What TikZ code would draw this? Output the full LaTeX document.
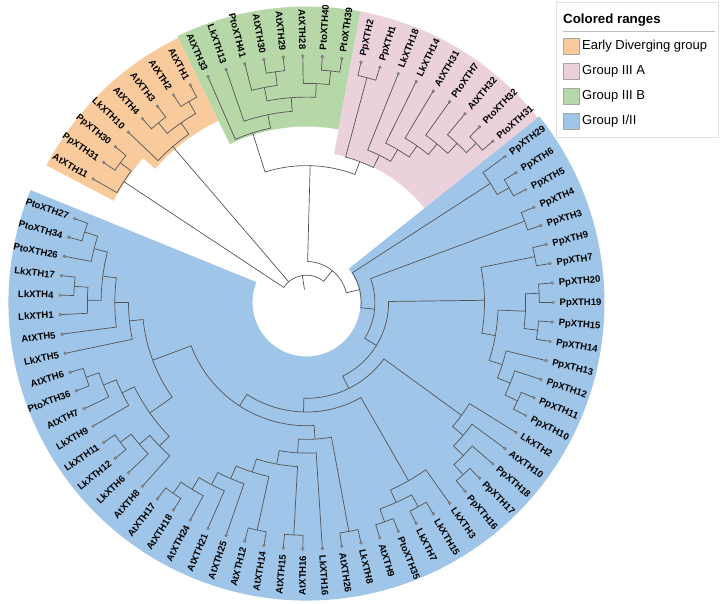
\documentclass[tikz,border=0pt]{standalone}
\usepackage{fontspec}
\setmainfont{Liberation Sans}
\usetikzlibrary{calc}
\definecolor{earlyrange}{RGB}{249,203,156}
\definecolor{threearange}{RGB}{234,209,220}
\definecolor{threebrange}{RGB}{182,215,168}
\definecolor{onetworange}{RGB}{159,197,232}
\definecolor{branchgray}{RGB}{85,85,85}
\definecolor{tipgray}{RGB}{150,150,150}
\tikzset{
  branch/.style={draw=branchgray, line width=0.7pt},
  tipdot/.style={fill=tipgray, draw=tipgray!70!black, line width=0.3pt},
  leaflab/.style={font=\fontsize{9.5}{10}\selectfont\bfseries, inner sep=0pt, text height=6.8pt, text depth=0pt},
  legtext/.style={font=\fontsize{13}{14}\selectfont, anchor=west, inner sep=0pt},
  swatch/.style={draw=black!35, line width=0.4pt, minimum size=16pt, inner sep=0pt}
}
% angular position of every tree node, by name
\newcommand\setpos[2]{\expandafter\xdef\csname tp#1\endcsname{#2}}
\newcommand\getpos[1]{\csname tp#1\endcsname}
% internal node: name, height, first child, second child
\newcommand\clade[4]{%
  \pgfmathsetmacro\pa{\getpos{#3}}\pgfmathsetmacro\pb{\getpos{#4}}%
  \pgfmathsetmacro\pn{(\pa+\pb)/2}\setpos{#1}{\pn}%
  \draw[branch] (#3) -- ({leafang(\pa)}:{rlev(#2)}) arc[start angle={leafang(\pa)}, end angle={leafang(\pb)}, radius={rlev(#2)}] -- (#4);
  \coordinate (#1) at ({leafang(\pn)}:{rlev(#2)});
}
% coloured range: colour, first and last leaf position, inner and outer radius
\newcommand\crange[5]{%
  \fill[#1] ({leafang(#2)}:#4) arc[start angle={leafang(#2)}, end angle={leafang(#3)}, radius=#4]
    -- ({leafang(#3)}:#5) arc[start angle={leafang(#3)}, end angle={leafang(#2)}, radius=#5] -- cycle;
}

\begin{document}
\begin{tikzpicture}[x=1pt, y=1pt,
  declare function={leafang(\p)=(33-\p)*4.543; rlev(\h)=246.5-13.7*\h;}]
\useasboundingbox (-306.5,-300.5) rectangle (415.5,302.5);

% colored ranges
\crange{earlyrange}{-0.5}{2.5}{218}{294}
\crange{earlyrange}{2.5}{7.5}{202}{294}
\crange{threebrange}{7.5}{15.5}{176}{296}
\crange{threearange}{15.5}{24.5}{151}{296}
\crange{onetworange}{24.5}{77.5}{54}{298}

% leaves
\foreach \nm [count=\i from 0] in {AtXTH11, PpXTH31, PpXTH30, LkXTH10, AtXTH4, AtXTH3, AtXTH2, AtXTH1,
    AtXTH33, LkXTH13, PtoXTH41, AtXTH30, AtXTH29, AtXTH28, PtoXTH40, PtoXTH39,
    PpXTH2, PpXTH1, LkXTH18, LkXTH14, AtXTH31, PtoXTH7, AtXTH32, PtoXTH32, PtoXTH31,
    PpXTH29, PpXTH6, PpXTH5, PpXTH4, PpXTH3, PpXTH9, PpXTH7, PpXTH20, PpXTH19, PpXTH15,
    PpXTH14, PpXTH13, PpXTH12, PpXTH11, PpXTH10, LkXTH2, AtXTH10, PpXTH18, PpXTH17, PpXTH16,
    LkXTH3, LkXTH15, LkXTH7, PtoXTH35, AtXTH9, LkXTH8, AtXTH26, LkXTH16, AtXTH16, AtXTH15,
    AtXTH14, AtXTH12, AtXTH25, AtXTH21, AtXTH24, AtXTH18, AtXTH17, AtXTH8, LkXTH6, LkXTH12,
    LkXTH11, LkXTH9, AtXTH7, PtoXTH36, AtXTH6, LkXTH5, AtXTH5, LkXTH1, LkXTH4, LkXTH17,
    PtoXTH26, PtoXTH34, PtoXTH27} {
  \setpos{\nm}{\i}
  \pgfmathsetmacro\a{leafang(\i)}
  \pgfmathtruncatemacro\rside{and(\a>-90,\a<90)}
  \coordinate (\nm) at (\a:246.5);
  \ifnum\rside=1
    \node[leaflab, anchor=west, rotate=\a] (\nm-lab) at (\a:253) {\nm};
  \else
    \node[leaflab, anchor=east, rotate=\a+180] (\nm-lab) at (\a:253) {\nm};
  \fi
}

% early diverging group
\clade{o1a}{1}{PpXTH31}{PpXTH30}
\clade{o1}{2}{AtXTH11}{o1a}
\clade{o2a}{1}{AtXTH4}{AtXTH3}
\clade{o2b}{1}{AtXTH2}{AtXTH1}
\clade{o2c}{2}{o2a}{o2b}
\clade{o2}{3}{LkXTH10}{o2c}
% group III B
\clade{g1}{1}{AtXTH30}{AtXTH29}
\clade{g2}{2}{PtoXTH41}{g1}
\clade{g3}{1}{PtoXTH40}{PtoXTH39}
\clade{g4}{2}{AtXTH28}{g3}
\clade{g5}{3}{g2}{g4}
\clade{g6}{4}{LkXTH13}{g5}
\clade{g7}{5}{AtXTH33}{g6}
% group III A
\clade{k1}{1}{PtoXTH32}{PtoXTH31}
\clade{k2}{2}{AtXTH32}{k1}
\clade{k3}{3}{PtoXTH7}{k2}
\clade{k4}{4}{AtXTH31}{k3}
\clade{k5}{5}{LkXTH14}{k4}
\clade{k6}{6}{LkXTH18}{k5}
\clade{k7}{1}{PpXTH2}{PpXTH1}
\clade{k8}{7}{k7}{k6}
\clade{gp}{8}{g7}{k8}
% group I/II
\clade{c1a}{1}{PpXTH6}{PpXTH5}
\clade{c1}{2}{PpXTH29}{c1a}
\clade{c2}{1}{PpXTH4}{PpXTH3}
\clade{p1}{1}{PpXTH9}{PpXTH7}
\clade{p2}{1}{PpXTH20}{PpXTH19}
\clade{p3}{1}{PpXTH15}{PpXTH14}
\clade{p4}{2}{p2}{p3}
\clade{p5}{1}{PpXTH11}{PpXTH10}
\clade{p6}{2}{PpXTH12}{p5}
\clade{p7}{3}{PpXTH13}{p6}
\clade{p8}{4}{p4}{p7}
\clade{p9}{5}{p1}{p8}
\clade{q1}{1}{PpXTH17}{PpXTH16}
\clade{q2}{2}{PpXTH18}{q1}
\clade{q3}{3}{AtXTH10}{q2}
\clade{q4}{4}{LkXTH2}{q3}
\clade{s1}{1}{PtoXTH35}{AtXTH9}
\clade{s2}{1}{LkXTH15}{LkXTH7}
\clade{s3}{2}{s2}{s1}
\clade{s4}{3}{LkXTH3}{s3}
\clade{a1}{1}{AtXTH18}{AtXTH17}
\clade{a2}{2}{AtXTH24}{a1}
\clade{a3}{3}{AtXTH21}{a2}
\clade{a4}{4}{AtXTH25}{a3}
\clade{a5}{1}{AtXTH14}{AtXTH12}
\clade{a6}{5}{a5}{a4}
\clade{a7}{1}{AtXTH16}{AtXTH15}
\clade{a8}{6}{a7}{a6}
\clade{a9}{7}{LkXTH16}{a8}
\clade{a10}{1}{LkXTH8}{AtXTH26}
\clade{a11}{8}{a10}{a9}
\clade{u1}{1}{LkXTH12}{LkXTH11}
\clade{u2}{2}{LkXTH6}{u1}
\clade{u3}{3}{AtXTH8}{u2}
\clade{u4}{1}{PtoXTH36}{AtXTH6}
\clade{u5}{2}{AtXTH7}{u4}
\clade{u6}{3}{LkXTH9}{u5}
\clade{u7}{4}{u3}{u6}
\clade{v1}{1}{LkXTH4}{LkXTH17}
\clade{v2}{2}{LkXTH1}{v1}
\clade{v3}{1}{PtoXTH34}{PtoXTH27}
\clade{v4}{2}{PtoXTH26}{v3}
\clade{v5}{3}{v2}{v4}
\clade{v6}{4}{AtXTH5}{v5}
\clade{v7}{5}{LkXTH5}{v6}
\clade{w}{6}{u7}{v7}
\clade{b6}{9}{a11}{w}
\clade{b5}{10}{s4}{b6}
\clade{b4}{11}{q4}{b5}
\clade{b3}{12}{p9}{b4}
\clade{b2}{13}{c2}{b3}
\clade{b1}{14}{c1}{b2}
\clade{y}{15}{gp}{b1}

% root with three children
\pgfmathsetmacro\pa{\getpos{o1}}\pgfmathsetmacro\pb{\getpos{y}}\pgfmathsetmacro\pc{\getpos{o2}}
\pgfmathsetmacro\pr{(\pa+\pb)/2}
\draw[branch] (o1) -- ({leafang(\pa)}:{rlev(16)}) arc[start angle={leafang(\pa)}, end angle={leafang(\pb)}, radius={rlev(16)}] -- (y);
\draw[branch] (o2) -- ({leafang(\pc)}:{rlev(16)});
\coordinate (root) at ({leafang(\pr)}:{rlev(16)});
\coordinate (rootbase) at ({leafang(\pr)}:13);
\draw[branch] (root) -- (rootbase);

% tip dots
\foreach \nm in {AtXTH11, PpXTH31, PpXTH30, LkXTH10, AtXTH4, AtXTH3, AtXTH2, AtXTH1,
    AtXTH33, LkXTH13, PtoXTH41, AtXTH30, AtXTH29, AtXTH28, PtoXTH40, PtoXTH39,
    PpXTH2, PpXTH1, LkXTH18, LkXTH14, AtXTH31, PtoXTH7, AtXTH32, PtoXTH32, PtoXTH31,
    PpXTH29, PpXTH6, PpXTH5, PpXTH4, PpXTH3, PpXTH9, PpXTH7, PpXTH20, PpXTH19, PpXTH15,
    PpXTH14, PpXTH13, PpXTH12, PpXTH11, PpXTH10, LkXTH2, AtXTH10, PpXTH18, PpXTH17, PpXTH16,
    LkXTH3, LkXTH15, LkXTH7, PtoXTH35, AtXTH9, LkXTH8, AtXTH26, LkXTH16, AtXTH16, AtXTH15,
    AtXTH14, AtXTH12, AtXTH25, AtXTH21, AtXTH24, AtXTH18, AtXTH17, AtXTH8, LkXTH6, LkXTH12,
    LkXTH11, LkXTH9, AtXTH7, PtoXTH36, AtXTH6, LkXTH5, AtXTH5, LkXTH1, LkXTH4, LkXTH17,
    PtoXTH26, PtoXTH34, PtoXTH27}
  \fill[tipdot] (\nm) circle (1.5);

% legend
\draw[black!12, line width=0.6pt] (249.5,300) rectangle (411.5,165);
\node[anchor=west, inner sep=0pt, font=\fontsize{13.3}{14}\selectfont\bfseries] (legtitle) at (256.5,282.5) {Colored ranges};
\draw[black!25, line width=0.8pt] (256.5,270.8) -- (408.5,270.8);
\node[swatch, fill=earlyrange] (sw1) at (264.5,256.5) {};
\node[swatch, fill=threearange] (sw2) at (264.5,231) {};
\node[swatch, fill=threebrange] (sw3) at (264.5,206) {};
\node[swatch, fill=onetworange] (sw4) at (264.5,181) {};
\node[legtext] (lg1) at (275.5,256.5) {Early Diverging group};
\node[legtext] (lg2) at (275.5,231) {Group III A};
\node[legtext] (lg3) at (275.5,206) {Group III B};
\node[legtext] (lg4) at (275.5,181) {Group I/II};
\end{tikzpicture}
\end{document}
